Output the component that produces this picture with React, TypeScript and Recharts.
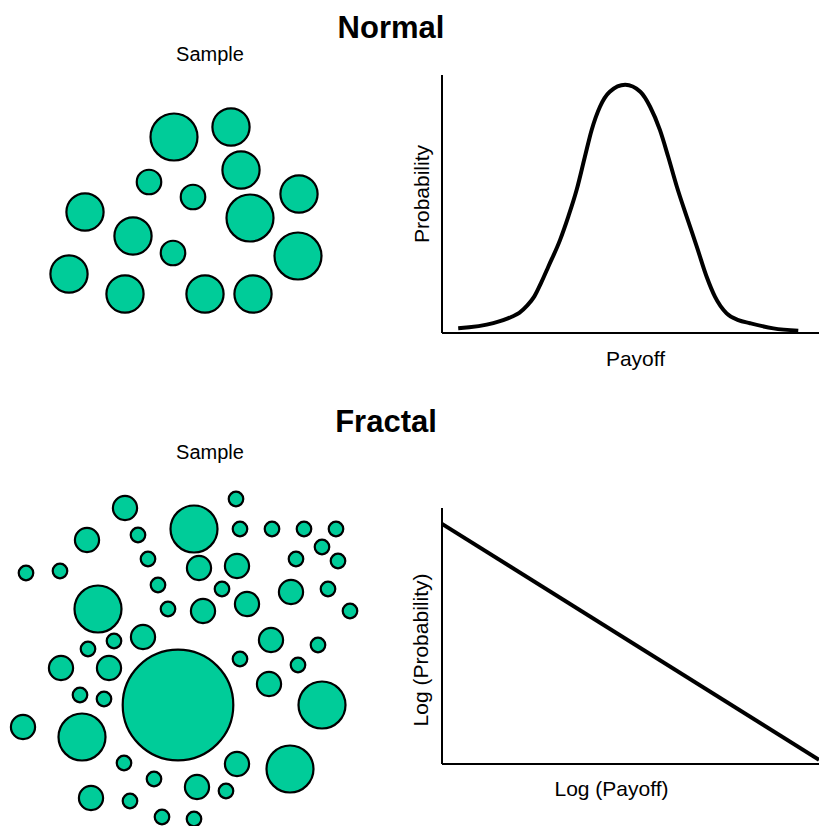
import React from 'react';
import {
  ScatterChart, Scatter, LineChart, Line, XAxis, YAxis, ZAxis, Label,
} from 'recharts';

// bubble samples: x, y position in sample units, z = bubble weight
const normalSample = [
  { x: 174, y: 193, z: 552 }, { x: 231, y: 203, z: 346 }, { x: 149, y: 148, z: 150 },
  { x: 241, y: 160, z: 346 }, { x: 193, y: 133, z: 150 }, { x: 299, y: 136, z: 346 },
  { x: 85, y: 118, z: 346 }, { x: 250, y: 112, z: 552 }, { x: 133, y: 94, z: 346 },
  { x: 173, y: 77, z: 150 }, { x: 298, y: 74, z: 552 }, { x: 69, y: 56, z: 346 },
  { x: 125, y: 36, z: 346 }, { x: 205, y: 36, z: 346 }, { x: 253, y: 36, z: 346 },
];

const fractalSample = [
  { x: 125, y: 318, z: 146 }, { x: 236, y: 327, z: 53 }, { x: 194, y: 297, z: 552 },
  { x: 87, y: 286, z: 146 }, { x: 138, y: 291, z: 53 }, { x: 240, y: 297, z: 53 },
  { x: 272, y: 297, z: 53 }, { x: 304, y: 297, z: 53 }, { x: 336, y: 297, z: 53 },
  { x: 322, y: 279, z: 53 }, { x: 148, y: 267, z: 53 }, { x: 199, y: 258, z: 146 },
  { x: 237, y: 260, z: 146 }, { x: 296, y: 267, z: 53 }, { x: 338, y: 265, z: 53 },
  { x: 26, y: 253, z: 53 }, { x: 60, y: 255, z: 53 }, { x: 158, y: 241, z: 53 },
  { x: 222, y: 237, z: 53 }, { x: 291, y: 234, z: 146 }, { x: 328, y: 237, z: 53 },
  { x: 98, y: 217, z: 552 }, { x: 168, y: 217, z: 53 }, { x: 203, y: 215, z: 146 },
  { x: 247, y: 222, z: 146 }, { x: 350, y: 215, z: 53 }, { x: 143, y: 189, z: 146 },
  { x: 114, y: 185, z: 53 }, { x: 88, y: 177, z: 53 }, { x: 271, y: 186, z: 146 },
  { x: 318, y: 181, z: 53 }, { x: 61, y: 158, z: 146 }, { x: 109, y: 158, z: 146 },
  { x: 178, y: 121, z: 3058 }, { x: 240, y: 167, z: 53 }, { x: 298, y: 161, z: 53 },
  { x: 269, y: 142, z: 146 }, { x: 80, y: 131, z: 53 }, { x: 104, y: 127, z: 53 },
  { x: 322, y: 121, z: 552 }, { x: 23, y: 99, z: 146 }, { x: 82, y: 89, z: 552 },
  { x: 124, y: 63, z: 53 }, { x: 237, y: 62, z: 146 }, { x: 290, y: 57, z: 552 },
  { x: 154, y: 47, z: 53 }, { x: 197, y: 39, z: 146 }, { x: 226, y: 35, z: 53 },
  { x: 91, y: 28, z: 146 }, { x: 130, y: 25, z: 53 }, { x: 162, y: 9, z: 53 },
  { x: 194, y: 7, z: 53 },
];

const normalCurve = [
  { payoff: 4.3, prob: 1.8 }, { payoff: 13.6, prob: 3.8 }, { payoff: 18.5, prob: 6.3 },
  { payoff: 20.5, prob: 7.8 }, { payoff: 22.5, prob: 10.5 }, { payoff: 24.5, prob: 14.2 },
  { payoff: 26.4, prob: 19.8 }, { payoff: 28.2, prob: 25.7 },
  { payoff: 31.3, prob: 36 }, { payoff: 33.5, prob: 45.1 }, { payoff: 35.7, prob: 55.4 },
  { payoff: 37.9, prob: 68.3 }, { payoff: 39.7, prob: 78.7 }, { payoff: 41.9, prob: 87.7 },
  { payoff: 44.5, prob: 93.5 }, { payoff: 48.6, prob: 96.2 }, { payoff: 52.6, prob: 93.5 },
  { payoff: 55.2, prob: 87.7 }, { payoff: 57.8, prob: 78.7 }, { payoff: 60, prob: 68.3 },
  { payoff: 62.3, prob: 56.7 }, { payoff: 64.9, prob: 45.1 }, { payoff: 67.6, prob: 33.4 },
  { payoff: 70.2, prob: 21.8 }, { payoff: 72.4, prob: 14.1 }, { payoff: 75.5, prob: 7.6 },
  { payoff: 78.6, prob: 5 }, { payoff: 81.7, prob: 3.8 }, { payoff: 87.9, prob: 1.8 },
  { payoff: 94.5, prob: 0.9 },
];

const fractalLine = [
  { logPayoff: 0, logProb: 93.8 },
  { logPayoff: 100, logProb: 1.6 },
];

const titles = [
  { text: 'Normal', x: 391, y: 27, bold: true },
  { text: 'Sample', x: 210, y: 54, bold: false },
  { text: 'Fractal', x: 386, y: 421, bold: true },
  { text: 'Sample', x: 210, y: 452, bold: false },
];

const FONT = '"Liberation Sans", Arial, Helvetica, sans-serif';
const GREEN = '#00CC99';
const axisLine = { stroke: '#000', strokeWidth: 2 };

const caption = (text: string, dx: number, dy: number, vertical: boolean) => (props: any) => {
  const vb = props.viewBox || {};
  const x = vb.x + (vertical ? 0 : vb.width / 2) + dx;
  const y = vb.y + (vertical ? vb.height / 2 : 0) + dy;
  return (
    <text
      x={x}
      y={y}
      textAnchor="middle"
      dominantBaseline="central"
      transform={vertical ? `rotate(-90, ${x}, ${y})` : undefined}
      style={{ fontFamily: FONT, fontSize: 21, fill: '#000' }}
    >
      {text}
    </text>
  );
};

const Bubbles = ({ data, height }: { data: any[]; height: number }) => (
  <ScatterChart width={400} height={height} margin={{ top: 0, right: 0, bottom: 0, left: 0 }}>
    <XAxis type="number" dataKey="x" domain={[0, 400]} hide />
    <YAxis type="number" dataKey="y" domain={[0, height]} hide />
    <ZAxis type="number" dataKey="z" domain={[0, 4000]} range={[0, 4000 * Math.PI]} />
    <Scatter data={data} fill={GREEN} stroke="#000" strokeWidth={2.2} isAnimationActive={false} />
  </ScatterChart>
);

export default function App() {
  return (
    <div style={{ position: 'absolute', left: 0, top: 0, width: 819, height: 826, background: '#fff', overflow: 'hidden' }}>
      <div style={{ position: 'absolute', left: 0, top: 80 }}>
        <Bubbles data={normalSample} height={250} />
      </div>
      <div style={{ position: 'absolute', left: 0, top: 480 }}>
        <Bubbles data={fractalSample} height={346} />
      </div>

      <div style={{ position: 'absolute', left: 400, top: 60 }}>
        <LineChart width={419} height={320} data={normalCurve} margin={{ top: 15, right: 0, bottom: 0, left: 0 }}>
          <XAxis type="number" dataKey="payoff" domain={[0, 100]} tick={false} tickLine={false} axisLine={axisLine} height={47}>
            <Label content={caption('Payoff', 5, 25, false)} />
          </XAxis>
          <YAxis type="number" domain={[0, 100]} tick={false} tickLine={false} axisLine={axisLine} width={42}>
            <Label content={caption('Probability', 21, -10, true)} />
          </YAxis>
          <Line type="monotone" dataKey="prob" stroke="#000" strokeWidth={4} dot={false} isAnimationActive={false} />
        </LineChart>
      </div>

      <div style={{ position: 'absolute', left: 400, top: 490 }}>
        <LineChart width={419} height={320} data={fractalLine} margin={{ top: 18, right: 0, bottom: 0, left: 0 }}>
          <XAxis type="number" dataKey="logPayoff" domain={[0, 100]} tick={false} tickLine={false} axisLine={axisLine} height={46}>
            <Label content={caption('Log (Payoff)', -19, 24, false)} />
          </XAxis>
          <YAxis type="number" domain={[0, 100]} tick={false} tickLine={false} axisLine={axisLine} width={42}>
            <Label content={caption('Log (Probability)', 20, 14, true)} />
          </YAxis>
          <Line type="linear" dataKey="logProb" stroke="#000" strokeWidth={4} dot={false} isAnimationActive={false} />
        </LineChart>
      </div>

      <svg width={819} height={826} style={{ position: 'absolute', left: 0, top: 0, pointerEvents: 'none' }}>
        {titles.map((t, i) => (
          <text
            key={i}
            x={t.x}
            y={t.y}
            textAnchor="middle"
            dominantBaseline="central"
            style={{ fontFamily: FONT, fontSize: t.bold ? 31 : 20, fontWeight: t.bold ? 700 : 400, fill: '#000' }}
          >
            {t.text}
          </text>
        ))}
      </svg>
    </div>
  );
}
